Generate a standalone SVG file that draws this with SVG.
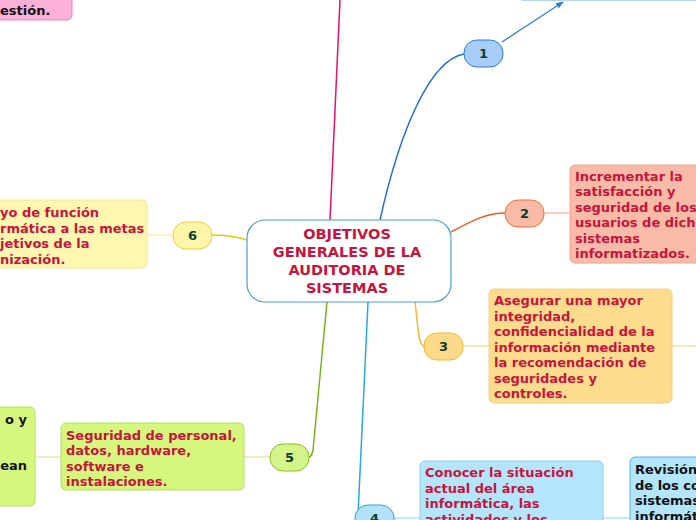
<svg xmlns="http://www.w3.org/2000/svg" width="696" height="520" viewBox="0 0 696 520">
<defs>
<style>
text{font-family:"DejaVu Sans",Verdana,sans-serif;font-weight:bold;font-size:13px}
.r{fill:#c8143c}
.k{fill:#111}
.n{fill:#0b3d2c;text-anchor:middle;font-size:13px}
.c{fill:#c8143c;text-anchor:middle;font-size:14.5px}
</style>
<marker id="ar" markerWidth="8" markerHeight="8" refX="7" refY="4" orient="auto" markerUnits="userSpaceOnUse"><path d="M0,1 L8,4 L0,7 z" fill="#2e7ad6"/></marker>
</defs>
<rect width="696" height="520" fill="#fff"/>
<g id="connectors" fill="none" stroke-width="1.5">
<path d="M330,220 L340,0" stroke="#e8106a"/>
<path d="M380,220 C400,130 430,60 464,54" stroke="#1f6fd6"/>
<path d="M502,42 L563,2" stroke="#2e7ad6" stroke-width="1.2" marker-end="url(#ar)"/>
<path d="M451,232 C470,222 485,213 505,213" stroke="#f05a22"/>
<path d="M544,213 L570,213" stroke="#f8c0b0"/>
<path d="M415,302 C418,325 418,345 424,346" stroke="#f5b82e"/>
<path d="M463,346 L489,346 M672,346 L696,346" stroke="#fde0a0"/>
<path d="M368,302 L358,515" stroke="#2aa8e0"/>
<path d="M394,518 L420,518 M603,518 L630,518" stroke="#b3e5fc"/>
<path d="M327,302 L313,450 C312,455 310,457 309,457" stroke="#7ab317"/>
<path d="M270,457 L244,457 M61,457 L35,457" stroke="#d8f0a0"/>
<path d="M247,240 C235,236 225,235 212,235" stroke="#e8c800"/>
<path d="M173,235 L147,235" stroke="#fff2b0"/>
</g>
<g id="pink"><rect x="-10" y="-20" width="82" height="40" rx="5" fill="#fbb0d8" stroke="#f080c0"/><text class="k" x="0" y="15">estión.</text></g>
<g id="center"><rect x="247" y="220" width="204" height="82" rx="18" fill="#fff" stroke="#4a9fd8" stroke-width="1.2"/>
<text class="c" x="347" y="239">OBJETIVOS</text><text class="c" x="347" y="257">GENERALES DE LA</text><text class="c" x="347" y="275">AUDITORIA DE</text><text class="c" x="347" y="293">SISTEMAS</text></g>
<g id="n1"><rect x="464" y="40" width="39" height="27" rx="13" fill="#a8cdf8" stroke="#2e7ad6"/><text class="n" x="483.5" y="58">1</text></g>
<g id="b1"><rect x="518" y="-20" width="190" height="20" rx="4" fill="#a8cdf8" stroke="#6aa9f0"/></g>
<g id="n2"><rect x="505" y="200" width="39" height="27" rx="13" fill="#f8bba8" stroke="#f0703a"/><text class="n" x="524.5" y="218">2</text></g>
<g id="b2"><rect x="570" y="165" width="140" height="98" rx="5" fill="#f8bba8" stroke="#f4a08c"/>
<text class="r" x="575" y="181">Incrementar la</text><text class="r" x="575" y="196">satisfacción y</text><text class="r" x="575" y="212">seguridad de los</text><text class="r" x="575" y="227">usuarios de dichos</text><text class="r" x="575" y="243">sistemas</text><text class="r" x="575" y="258">informatizados.</text></g>
<g id="n3"><rect x="424" y="333" width="39" height="27" rx="13" fill="#fdd98a" stroke="#f5b82e"/><text class="n" x="443.5" y="351">3</text></g>
<g id="b3"><rect x="489" y="289" width="183" height="114" rx="5" fill="#fddc8e" stroke="#f5d080"/>
<text class="r" x="494" y="305">Asegurar una mayor</text><text class="r" x="494" y="321">integridad,</text><text class="r" x="494" y="336">confidencialidad de la</text><text class="r" x="494" y="352">información mediante</text><text class="r" x="494" y="367">la recomendación de</text><text class="r" x="494" y="383">seguridades y</text><text class="r" x="494" y="398">controles.</text></g>
<g id="n4"><rect x="355" y="505" width="39" height="27" rx="13" fill="#b2e2f8" stroke="#2aa8e0"/><text class="n" x="374.5" y="523">4</text></g>
<g id="b4"><rect x="420" y="461" width="183" height="75" rx="5" fill="#b3e5fc" stroke="#8ccdf0"/>
<text class="r" x="425" y="477">Conocer la situación</text><text class="r" x="425" y="493">actual del área</text><text class="r" x="425" y="508">informática, las</text><text class="r" x="425" y="524">actividades y los</text></g>
<g id="b4b"><rect x="630" y="457" width="90" height="75" rx="5" fill="#b3e5fc" stroke="#5ab0e0"/>
<text class="k" x="635" y="474">Revisión</text><text class="k" x="635" y="490">de los co</text><text class="k" x="635" y="505">sistemas</text><text class="k" x="635" y="521">informát</text></g>
<g id="n5"><rect x="270" y="444" width="39" height="27" rx="13" fill="#d4f58a" stroke="#8cc020"/><text class="n" x="289.5" y="462">5</text></g>
<g id="b5"><rect x="61" y="423" width="183" height="67" rx="5" fill="#d6f77e" stroke="#b5e060"/>
<text class="r" x="66" y="440">Seguridad de personal,</text><text class="r" x="66" y="455">datos, hardware,</text><text class="r" x="66" y="471">software e</text><text class="r" x="66" y="486">instalaciones.</text></g>
<g id="b5b"><rect x="-10" y="407" width="45" height="99" rx="5" fill="#d6f77e" stroke="#b5e060"/>
<text class="k" x="27" y="424" text-anchor="end">o y</text><text class="k" x="27" y="470" text-anchor="end">ean</text></g>
<g id="n6"><rect x="173" y="222" width="39" height="27" rx="13" fill="#fff5a8" stroke="#e8d040"/><text class="n" x="192.5" y="240">6</text></g>
<g id="b6"><rect x="-10" y="200" width="157" height="68" rx="5" fill="#fff7b0" stroke="#f5e890"/>
<text class="r" x="0" y="217">yo de función</text><text class="r" x="0" y="233">rmática a las metas</text><text class="r" x="0" y="248">jetivos de la</text><text class="r" x="0" y="264">nización.</text></g>
</svg>
